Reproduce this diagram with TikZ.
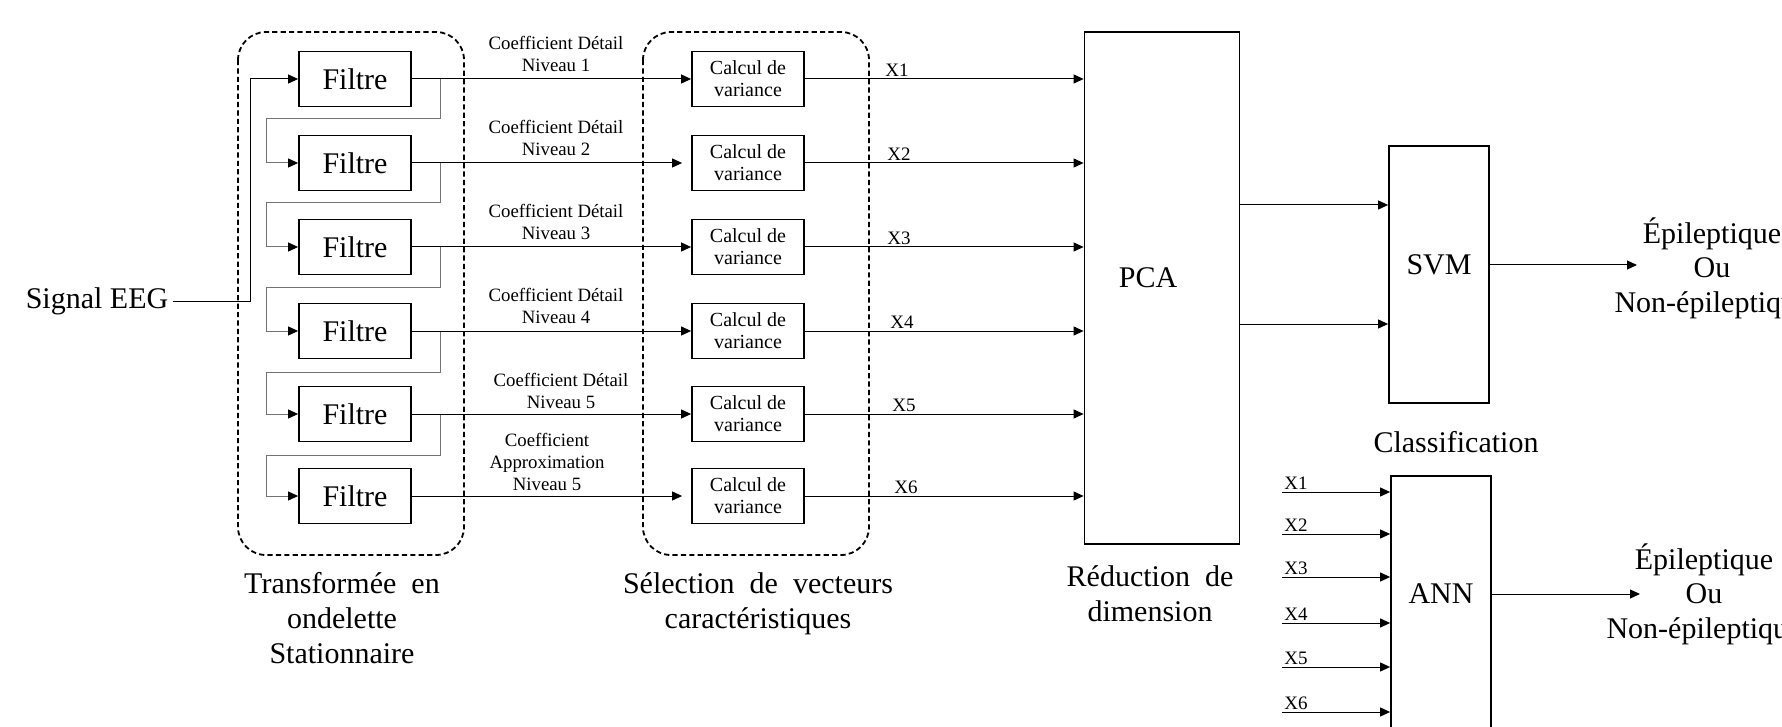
\documentclass[tikz,border=0pt]{standalone}
\usepackage{fontspec}
\setmainfont{Liberation Serif}
\usetikzlibrary{arrows.meta,positioning}

\begin{document}
\begin{tikzpicture}[x=0.5pt,y=-0.5pt,
	bloc/.style={rectangle, draw=black, line width=.9pt, inner sep=0mm, minimum width=56pt, minimum height=27.5pt},
	gros/.style={font=\fontsize{15}{17.3}\selectfont, align=center, inner sep=2pt},
	petit/.style={font=\fontsize{9.4}{11}\selectfont, align=center, inner sep=1pt},
	xlab/.style={font=\fontsize{9.5}{11}\selectfont, inner sep=1pt, anchor=south west},
	fl/.style={-{Triangle[length=5pt,width=4.5pt]}, line width=.5pt},
	retour/.style={-{Triangle[length=5pt,width=4.5pt,color=black]}, line width=.5pt, draw=black!55},
	cadre/.style={draw=black, line width=.9pt, dash pattern=on 2.6pt off 1.6pt, rounded corners=14pt}]

	\clip (0,0) rectangle (1782,727);

	\node[gros] (sig) at (97,301) {Signal EEG};
	\coordinate (coude) at (250,301);

	\foreach \i/\y in {1/79,2/163,3/247,4/331,5/414,6/496}{
		\node[bloc, font=\fontsize{15}{17}\selectfont] (f\i) at (355,\y) {Filtre};
		\node[bloc, font=\fontsize{10}{11}\selectfont, align=center] (c\i) at (748,\y) {Calcul de\\variance};
	}

	\draw[cadre] (238,32) rectangle (464,555);
	\draw[cadre] (643,32) rectangle (869,555);

	\draw[fl] (sig.east) -- (coude) |- (f1.west);

	% retours d'un filtre au suivant
	\foreach \i/\j/\m in {1/2/119,2/3/203,3/4/287,4/5/372,5/6/455}
		\draw[retour] (f\i.east) ++(14.5pt,0) |- (266,\m) |- (f\j.west);

	\foreach \i/\s in {1/0,2/4.5,3/0,4/0,5/0,6/4.5}
		\draw[fl, shorten >=\s pt] (f\i) -- (c\i);

	\node[petit, anchor=south] (k1) at (556,74) {Coefficient Détail\\Niveau 1};
	\node[petit, anchor=south] (k2) at (556,158) {Coefficient Détail\\Niveau 2};
	\node[petit, anchor=south] (k3) at (556,242) {Coefficient Détail\\Niveau 3};
	\node[petit, anchor=south] (k4) at (556,326) {Coefficient Détail\\Niveau 4};
	\node[petit, anchor=south] (k5) at (561,411) {Coefficient Détail\\Niveau 5};
	\node[petit, anchor=south] (k6) at (547,493) {Coefficient\\Approximation\\Niveau 5};

	\node[gros] (twt) at (342,618) {Transformée \ en\\ondelette\\Stationnaire};
	\node[gros] (sel) at (758,604) {Sélection \ de \ vecteurs\\caractéristiques};

	\node[rectangle, draw=black, line width=.9pt, minimum width=77.5pt, minimum height=256pt] (pca) at (1162,288) {};
	\node[gros] (pcatxt) at (1148,278) {PCA};
	\node[gros] (red) at (1150,594) {Réduction \ de\\dimension};

	\foreach \i/\dx in {1/39,2/40,3/40,4/41.5,5/42.5,6/43.5}{
		\draw[fl] (c\i.east) -- (c\i.east -| pca.west);
		\node[xlab] (x\i) at ([xshift=\dx pt]c\i.east) {X\i};
	}

	\node[rectangle, draw=black, line width=.9pt, minimum width=50pt, minimum height=128.5pt] (svm) at (1439,274.5) {};
	\node[gros] (svmtxt) at (1439,265) {SVM};
	\node[gros] (cls) at (1456,442) {Classification};
	\coordinate (s1) at (1300,205);
	\coordinate (s2) at (1300,324);
	\draw[fl] (pca.east |- s1) -- (svm.west |- s1);
	\draw[fl] (pca.east |- s2) -- (svm.west |- s2);

	\node[gros] (res1) at (1712,268) {Épileptique\\Ou\\Non-épileptique};
	\coordinate (fin1) at (1637,265);
	\draw[fl] (svm.east |- svmtxt) -- (fin1);

	\node[rectangle, draw=black, line width=.9pt, minimum width=50pt, minimum height=300pt] (ann) at (1441,776) {};
	\node[gros] (anntxt) at (1441,594) {ANN};
	\foreach \i/\y in {1/492,2/534,3/577,4/623,5/667,6/712}{
		\coordinate (a\i) at (1282,\y);
		\draw[fl] (a\i) -- (ann.west |- a\i);
		\node[xlab] (ax\i) at (a\i) {X\i};
	}

	\node[gros] (res2) at (1704,594) {Épileptique\\Ou\\Non-épileptique};
	\coordinate (fin2) at (1640,594);
	\draw[fl] (ann.east |- anntxt) -- (fin2);

\end{tikzpicture}
\end{document}
